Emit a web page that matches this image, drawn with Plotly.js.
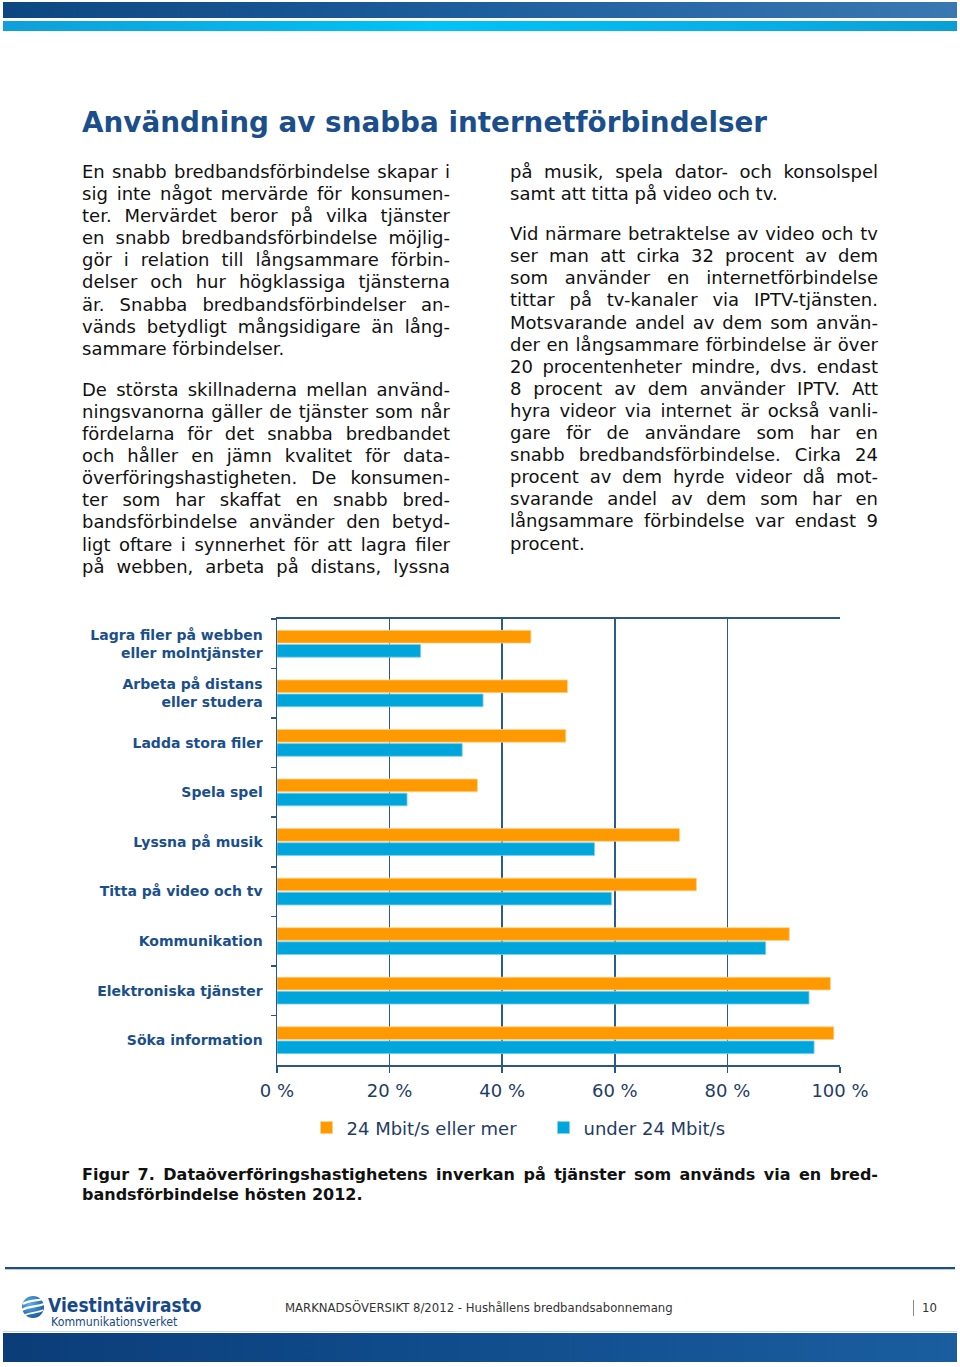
<!DOCTYPE html>
<html>
<head>
<meta charset="utf-8">
<script src="https://cdn.plot.ly/plotly-3.0.1.min.js"></script>
<style>
  html, body { margin:0; padding:0; background:#fff; }
  body { width:960px; height:1367px; position:relative; overflow:hidden; font-family:"DejaVu Sans", Verdana, sans-serif; }
  .abs { position:absolute; }
  .topbar1 { left:3px; top:2px; width:954px; height:16px; background:linear-gradient(to right,#0d4782,#1d5e9c 50%,#3a78b2); }
  .topbar2 { left:3px; top:21px; width:954px; height:10px; background:linear-gradient(to right,#109fd8,#00c3f6 45%,#08aee6 80%,#0a9fd4); }
  .title { left:82px; top:104px; font-size:27.8px; font-weight:bold; color:#1b4f8b; white-space:nowrap; line-height:38px; }
  .col { width:368px; font-size:18px; line-height:22.1px; color:#111; }
  .col div { white-space:nowrap; }
  .j { text-align:justify; text-align-last:justify; }
  .l { text-align:left; }
  .p2 { margin-top:19px; }
  .cap { left:82px; top:1165px; width:796px; font-size:16px; line-height:20px; font-weight:bold; color:#111; }
  .cap div { white-space:nowrap; }
  #chart { left:0; top:600px; width:960px; height:560px; }
  .fline { left:5px; top:1267px; width:950px; height:2px; background:#1f4f7f; }
  .fline2 { left:5px; top:1269px; width:950px; height:1px; background:#b9cde0; }
  .fband { left:3px; top:1333px; width:954px; height:29px; background:linear-gradient(to right,#0b3d78,#0f4a8a 40%,#1a5e9f); }
  .fband2 { left:3px; top:1331px; width:954px; height:1px; background:#c9d9e8; }
</style>
</head>
<body>
<div class="abs topbar1"></div>
<div class="abs topbar2"></div>

<div class="abs title">Användning av snabba internetförbindelser</div>

<div class="abs col" style="left:82px; top:161px;">
  <div class="j">En snabb bredbandsförbindelse skapar i</div>
  <div class="j">sig inte något mervärde för konsumen-</div>
  <div class="j">ter. Mervärdet beror på vilka tjänster</div>
  <div class="j">en snabb bredbandsförbindelse möjlig-</div>
  <div class="j">gör i relation till långsammare förbin-</div>
  <div class="j">delser och hur högklassiga tjänsterna</div>
  <div class="j">är. Snabba bredbandsförbindelser an-</div>
  <div class="j">vänds betydligt mångsidigare än lång-</div>
  <div class="l">sammare förbindelser.</div>
  <div class="j p2">De största skillnaderna mellan använd-</div>
  <div class="j">ningsvanorna gäller de tjänster som når</div>
  <div class="j">fördelarna för det snabba bredbandet</div>
  <div class="j">och håller en jämn kvalitet för data-</div>
  <div class="j">överföringshastigheten. De konsumen-</div>
  <div class="j">ter som har skaffat en snabb bred-</div>
  <div class="j">bandsförbindelse använder den betyd-</div>
  <div class="j">ligt oftare i synnerhet för att lagra filer</div>
  <div class="j">på webben, arbeta på distans, lyssna</div>
</div>

<div class="abs col" style="left:510px; top:161px;">
  <div class="j">på musik, spela dator- och konsolspel</div>
  <div class="l">samt att titta på video och tv.</div>
  <div class="j" style="margin-top:18px;">Vid närmare betraktelse av video och tv</div>
  <div class="j">ser man att cirka 32 procent av dem</div>
  <div class="j">som använder en internetförbindelse</div>
  <div class="j">tittar på tv-kanaler via IPTV-tjänsten.</div>
  <div class="j">Motsvarande andel av dem som använ-</div>
  <div class="j">der en långsammare förbindelse är över</div>
  <div class="j">20 procentenheter mindre, dvs. endast</div>
  <div class="j">8 procent av dem använder IPTV. Att</div>
  <div class="j">hyra videor via internet är också vanli-</div>
  <div class="j">gare för de användare som har en</div>
  <div class="j">snabb bredbandsförbindelse. Cirka 24</div>
  <div class="j">procent av dem hyrde videor då mot-</div>
  <div class="j">svarande andel av dem som har en</div>
  <div class="j">långsammare förbindelse var endast 9</div>
  <div class="l">procent.</div>
</div>

<div id="chart" class="abs"></div>

<div class="abs cap">
  <div class="j">Figur 7. Dataöverföringshastighetens inverkan på tjänster som används via en bred-</div>
  <div class="l">bandsförbindelse hösten 2012.</div>
</div>

<div class="abs fline"></div>
<div class="abs fline2"></div>

<svg class="abs" style="left:21px; top:1295px;" width="26" height="26" viewBox="0 0 26 26">
  <defs><radialGradient id="gg" cx="35%" cy="35%" r="70%"><stop offset="0" stop-color="#5fb0ea"/><stop offset="1" stop-color="#1a5d9e"/></radialGradient></defs>
  <circle cx="12" cy="12" r="11" fill="url(#gg)"/>
  <path d="M2,9 C8,5 16,6 22,4" stroke="#fff" stroke-width="2.2" fill="none"/>
  <path d="M1,15 C8,11 16,12 23,9" stroke="#fff" stroke-width="2.2" fill="none"/>
  <path d="M4,20 C10,17 17,18 22,15" stroke="#fff" stroke-width="1.8" fill="none"/>
</svg>
<div class="abs" style="left:48px; top:1294px; font-size:19px; font-weight:bold; color:#17498a; white-space:nowrap; transform:scaleX(0.9); transform-origin:left top; line-height:22px;">Viestintävirasto</div>
<div class="abs" style="left:51px; top:1314px; font-size:12.5px; color:#17498a; white-space:nowrap; transform:scaleX(0.88); transform-origin:left top; line-height:15px;">Kommunikationsverket</div>
<div class="abs" style="left:285px; top:1301px; font-size:11.7px; color:#333; white-space:nowrap; line-height:15px;">MARKNADSÖVERSIKT 8/2012 - Hushållens bredbandsabonnemang</div>
<div class="abs" style="left:913px; top:1300px; width:1px; height:16px; background:#888;"></div>
<div class="abs" style="left:922px; top:1301px; font-size:11.7px; color:#333; white-space:nowrap; line-height:15px;">10</div>

<div class="abs fband2"></div>
<div class="abs fband"></div>

<script>
// Data (percent of users)
const categories = [
  'Lagra filer på webben<br>eller molntjänster',
  'Arbeta på distans<br>eller studera',
  'Ladda stora filer',
  'Spela spel',
  'Lyssna på musik',
  'Titta på video och tv',
  'Kommunikation',
  'Elektroniska tjänster',
  'Söka information'
];
const fastValues = [45.1, 51.6, 51.3, 35.6, 71.5, 74.5, 91.0, 98.3, 98.9];
const slowValues = [25.5, 36.6, 32.9, 23.1, 56.4, 59.4, 86.8, 94.5, 95.4];
const seriesNames = ['24 Mbit/s eller mer', 'under 24 Mbit/s'];
const xTickValues = [0, 20, 40, 60, 80, 100];
const xTickLabels = ['0 %', '20 %', '40 %', '60 %', '80 %', '100 %'];

const traces = [
  {
    type: 'bar', orientation: 'h', name: seriesNames[0],
    y: categories, x: fastValues,
    marker: { color: '#FF9900', line: { color: '#ffd28a', width: 0.8 } },
    hoverinfo: 'skip'
  },
  {
    type: 'bar', orientation: 'h', name: seriesNames[1],
    y: categories, x: slowValues,
    marker: { color: '#00A6DB', line: { color: '#7fd0ee', width: 0.8 } },
    hoverinfo: 'skip'
  }
];

const axisBlue = '#2c5784';
const layout = {
  width: 960, height: 560,
  margin: { t: 19, b: 95, l: 277, r: 120, pad: 0 },
  paper_bgcolor: 'rgba(0,0,0,0)',
  plot_bgcolor: '#ffffff',
  font: { family: 'DejaVu Sans, Verdana, sans-serif', color: '#1f3d64' },
  barmode: 'group',
  bargap: 0.43,
  bargroupgap: 0.1,
  showlegend: true,
  legend: {
    orientation: 'h',
    x: 0.0524, xanchor: 'left',
    y: -0.141, yanchor: 'middle',
    font: { size: 18, color: '#1f3d64' },
    entrywidth: 192, entrywidthmode: 'pixels',
    itemclick: false, itemdoubleclick: false,
    traceorder: 'normal'
  },
  xaxis: {
    range: [0, 100],
    tickvals: xTickValues,
    ticktext: xTickLabels,
    tickfont: { size: 18, color: '#1f3d64' },
    ticks: 'outside', ticklen: 6, tickwidth: 1.5, tickcolor: axisBlue,
    ticklabelstandoff: 2,
    showgrid: true, gridcolor: '#2b5a8c', gridwidth: 1.5,
    zeroline: false,
    showline: true, linecolor: axisBlue, linewidth: 2, mirror: true,
    fixedrange: true
  },
  yaxis: {
    type: 'category',
    autorange: 'reversed',
    tickfont: { size: 14, color: '#1b4f8b', weight: 'bold' },
    ticks: 'outside', ticklen: 5, tickwidth: 1.5, tickcolor: axisBlue,
    tickson: 'boundaries',
    ticklabelstandoff: 10,
    showgrid: false, zeroline: false,
    showline: true, linecolor: axisBlue, linewidth: 1.5,
    fixedrange: true
  }
};

Plotly.newPlot('chart', traces, layout, { displayModeBar: false, staticPlot: true });
</script>
</body>
</html>
